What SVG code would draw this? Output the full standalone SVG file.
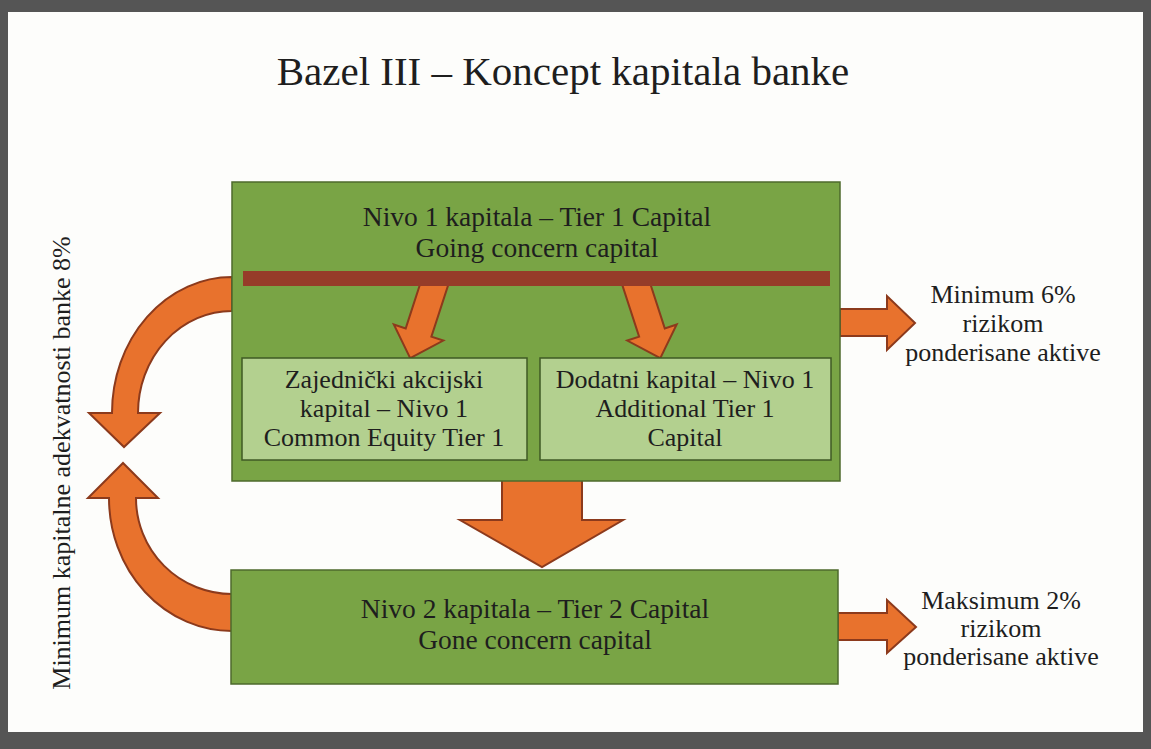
<svg xmlns="http://www.w3.org/2000/svg" width="1151" height="749" viewBox="0 0 1151 749">
<style>
.t{font-family:"Liberation Serif","Times New Roman",serif;fill:#1e1e1e;text-anchor:middle}
.box{fill:#79a445;stroke:#4d6a2c;stroke-width:1.5}
.sub{fill:#b3d08f;stroke:#3f5a25;stroke-width:1.5}
.arr{fill:#e8722d;stroke:#8c3a1c;stroke-width:2;stroke-linejoin:miter}
</style>
<rect width="1151" height="749" fill="#555555"/>
<rect x="8" y="12" width="1135" height="720" fill="#fdfdfb"/>
<text class="t" x="563" y="85" font-size="41">Bazel III – Koncept kapitala banke</text>

<g id="connectors">
  <path class="arr" d="M232,277 A120,136 0 0 0 112,413 L89,413 L124,447 L160,413 L138,413 A94,102 0 0 1 232,311 Z"/>
  <path class="arr" d="M232,631 A123,133 0 0 1 109,498 L88,498 L123,463 L158,498 L136,498 A96,96 0 0 0 232,594 Z"/>
  <path class="arr" d="M502,479 L582,479 L582,520 L623,520 L542,567 L460,520 L502,520 Z"/>
  <path class="arr" d="M840,309 L887,309 L887,296 L915,323 L887,350 L887,336 L840,336 Z"/>
  <path class="arr" d="M838,613 L887,613 L887,600 L916,627 L887,653 L887,640 L838,640 Z"/>
</g>

<g id="tier1">
  <rect class="box" x="232" y="182" width="608" height="299"/>
  <text class="t" x="537" y="226" font-size="27.5">Nivo 1 kapitala – Tier 1 Capital</text>
  <text class="t" x="537" y="257" font-size="27.5">Going concern capital</text>
  <g id="split-arrows">
    <polygon class="arr" transform="translate(434,285) rotate(18)" points="-13.5,-8 13.5,-8 13.5,50 26,50 0,77 -26,50 -13.5,50"/>
    <polygon class="arr" transform="translate(636.5,285) rotate(-18)" points="-13.5,-8 13.5,-8 13.5,50 26,50 0,77 -26,50 -13.5,50"/>
  </g>
  <rect x="243" y="271" width="587" height="15" fill="#963c29"/>
</g>

<g id="cet1">
  <rect class="sub" x="242" y="358" width="285" height="102"/>
  <text class="t" x="384" y="388" font-size="26">Zajednički akcijski</text>
  <text class="t" x="384" y="417" font-size="26">kapital – Nivo 1</text>
  <text class="t" x="384" y="446" font-size="26">Common Equity Tier 1</text>
</g>

<g id="at1">
  <rect class="sub" x="540" y="358" width="291" height="102"/>
  <text class="t" x="685" y="388" font-size="26">Dodatni kapital – Nivo 1</text>
  <text class="t" x="685" y="417" font-size="26">Additional Tier 1</text>
  <text class="t" x="685" y="446" font-size="26">Capital</text>
</g>

<g id="tier2">
  <rect class="box" x="231" y="570" width="607" height="114"/>
  <text class="t" x="535" y="618" font-size="27.5">Nivo 2 kapitala – Tier 2 Capital</text>
  <text class="t" x="535" y="649" font-size="27.5">Gone concern capital</text>
</g>

<g id="label-min6">
  <text class="t" x="1003" y="303" font-size="26">Minimum 6%</text>
  <text class="t" x="1003" y="332" font-size="26">rizikom</text>
  <text class="t" x="1003" y="361" font-size="26">ponderisane aktive</text>
</g>

<g id="label-max2">
  <text class="t" x="1001" y="609" font-size="26">Maksimum 2%</text>
  <text class="t" x="1001" y="637" font-size="26">rizikom</text>
  <text class="t" x="1001" y="665" font-size="26">ponderisane aktive</text>
</g>

<g id="label-8">
  <text class="t" transform="translate(70,463) rotate(-90)" x="0" y="0" font-size="26">Minimum kapitalne adekvatnosti banke 8%</text>
</g>
</svg>
